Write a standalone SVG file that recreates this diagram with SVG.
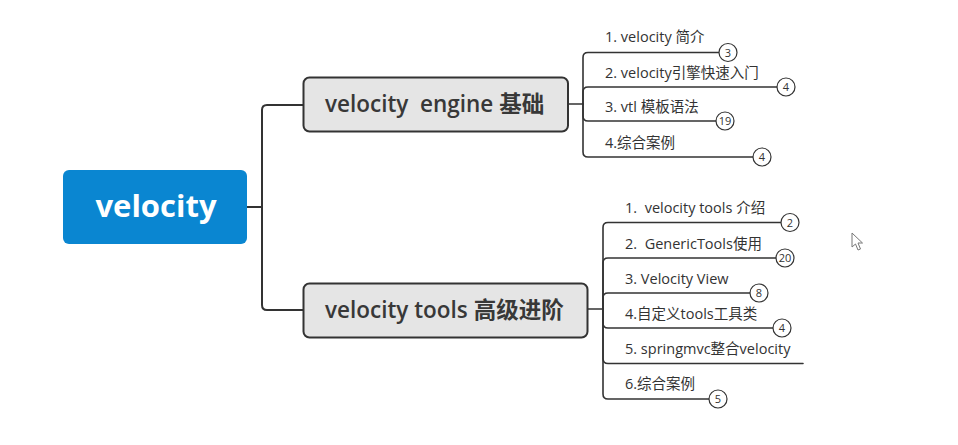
<svg xmlns="http://www.w3.org/2000/svg" width="958" height="445" viewBox="0 0 958 445">
<style>
  .conn { fill: none; stroke: #333; stroke-width: 1.6; stroke-linecap: round; }
  .main { fill: none; stroke: #333; stroke-width: 2; }
  .box { fill: #e5e5e5; stroke: #333; stroke-width: 2; }
  .boxtxt { font-family: "Open Sans", "Noto Sans CJK SC", sans-serif; font-size: 22.5px; font-weight: 600; fill: #383838; }
  .item { font-family: "Open Sans", "Noto Sans CJK SC", sans-serif; font-size: 14.5px; fill: #333; }
  .badge { fill: #fff; stroke: #333; stroke-width: 1.2; }
  .num { font-family: "Open Sans", sans-serif; font-size: 11px; fill: #333; text-anchor: middle; }
</style>
<rect width="958" height="445" fill="#ffffff"/>
<g id="connectors">
  <path class="main" d="M247,207 H262 M262,207 V110 Q262,105 267,105 H303 M262,207 V305 Q262,310 267,310 H303"/>
  <path class="conn" d="M568,104 H583 V57.5 Q583,52.5 588,52.5 H719"/>
  <path class="conn" d="M583,104 V92 Q583,87 588,87 H777"/>
  <path class="conn" d="M583,104 V116 Q583,121 588,121 H716"/>
  <path class="conn" d="M583,104 V152 Q583,157 588,157 H753"/>
  <path class="conn" d="M588,309 H603 V227.5 Q603,222.5 608,222.5 H781"/>
  <path class="conn" d="M603,309 V263 Q603,258 608,258 H776"/>
  <path class="conn" d="M603,309 V298 Q603,293 608,293 H750"/>
  <path class="conn" d="M603,309 V323 Q603,328 608,328 H773"/>
  <path class="conn" d="M603,309 V358.5 Q603,363.5 608,363.5 H803"/>
  <path class="conn" d="M603,309 V394 Q603,399 608,399 H709"/>
</g>
<g id="root">
  <rect x="63" y="170" width="184" height="74" rx="6" fill="#0a86d1"/>
  <text x="156" y="217" text-anchor="middle" font-family="Open Sans, sans-serif" font-size="31" font-weight="700" fill="#fff">velocity</text>
</g>
<g id="engine">
  <rect class="box" x="303.5" y="77.5" width="264.5" height="54" rx="6"/>
  <text class="boxtxt" x="325" y="112" xml:space="preserve">velocity  engine 基础</text>
</g>
<g id="tools">
  <rect class="box" x="303.5" y="283.5" width="284" height="54" rx="6"/>
  <text class="boxtxt" x="325" y="318">velocity tools 高级进阶</text>
</g>
<g id="e1"><text class="item" x="605" y="42">1. velocity 简介</text><circle class="badge" cx="728" cy="52.5" r="9"/><text class="num" x="728" y="56.5">3</text></g>
<g id="e2"><text class="item" x="605" y="78">2. velocity引擎快速入门</text><circle class="badge" cx="786" cy="87" r="9"/><text class="num" x="786" y="91">4</text></g>
<g id="e3"><text class="item" x="605" y="112">3. vtl 模板语法</text><circle class="badge" cx="725" cy="121" r="9"/><text class="num" x="725" y="125">19</text></g>
<g id="e4"><text class="item" x="605" y="148">4.综合案例</text><circle class="badge" cx="762" cy="157" r="9"/><text class="num" x="762" y="161">4</text></g>
<g id="t1"><text class="item" x="625" y="213" xml:space="preserve">1.  velocity tools 介绍</text><circle class="badge" cx="790" cy="222.5" r="9"/><text class="num" x="790" y="226.5">2</text></g>
<g id="t2"><text class="item" x="625" y="249" xml:space="preserve">2.  GenericTools使用</text><circle class="badge" cx="785" cy="258" r="9"/><text class="num" x="785" y="262">20</text></g>
<g id="t3"><text class="item" x="625" y="284">3. Velocity View</text><circle class="badge" cx="759" cy="293" r="9"/><text class="num" x="759" y="297">8</text></g>
<g id="t4"><text class="item" x="625" y="319">4.自定义tools工具类</text><circle class="badge" cx="782" cy="328" r="9"/><text class="num" x="782" y="332">4</text></g>
<g id="t5"><text class="item" x="625" y="354">5. springmvc整合velocity</text></g>
<g id="t6"><text class="item" x="625" y="389">6.综合案例</text><circle class="badge" cx="718" cy="399" r="9"/><text class="num" x="718" y="403">5</text></g>
<path d="M852,233 L852,247 L855.5,244 L858,250 L860.5,249 L858,243 L862.5,243 Z" fill="#fff" stroke="#777" stroke-width="1"/>
</svg>
